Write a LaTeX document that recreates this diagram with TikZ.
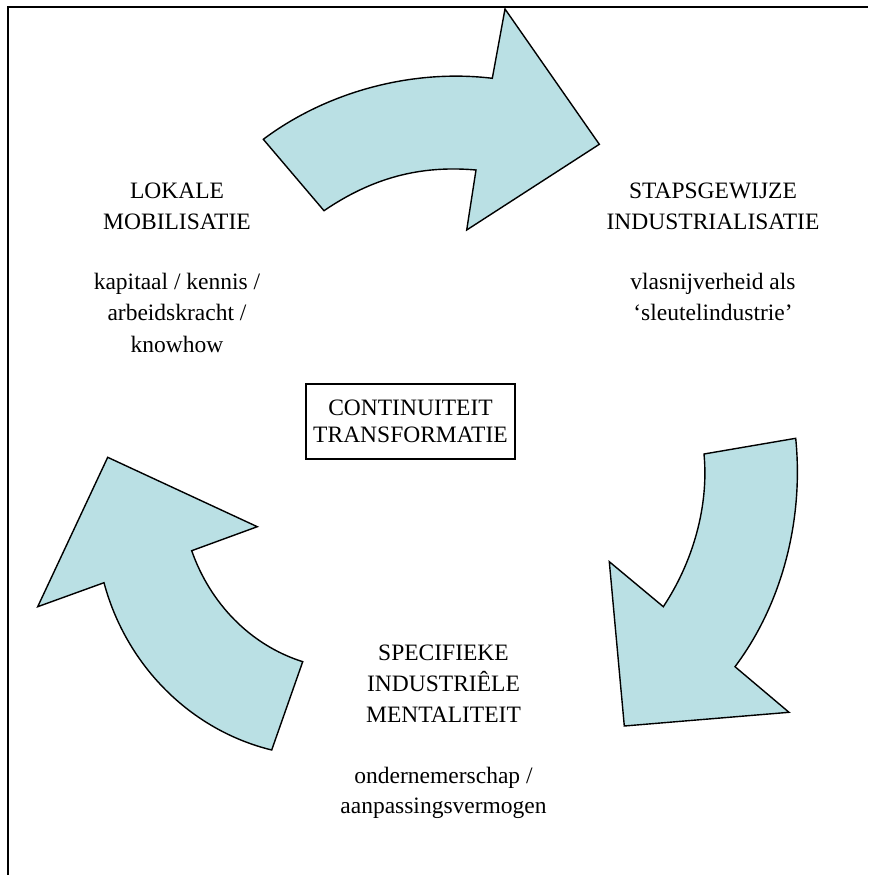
\documentclass[tikz,border=0pt]{standalone}
\usepackage{fontspec}
\setmainfont{Liberation Serif}
\definecolor{arrowfill}{RGB}{186,224,228}
\tikzset{
  cyclearrow/.style={fill=arrowfill, draw=black, line width=1.4pt, line join=miter},
  lbl/.style={anchor=base, inner sep=0pt, font=\fontsize{23.5}{31}\selectfont},
  centerbox/.style={draw=black, line width=1.5pt, minimum width=209pt, minimum height=75pt, inner sep=0pt}
}
\begin{document}
\begin{tikzpicture}[x=1pt,y=-1pt]
\useasboundingbox (0,0) rectangle (868,875);
% outer frame (only top and left edges inside the picture)
\draw[line width=2.2pt] (8,875) -- (8,7) -- (868,7);

% top arrow
\draw[cyclearrow] (263.3,139.3) -- (324,210.7)
  .. controls (372,178) and (420,165) .. (476,170)
  -- (466.7,230) -- (599.3,144.3) -- (505,9) -- (492.3,78.3)
  .. controls (412.9,68.7) and (327.3,91.3) .. (263.3,139.3)
  -- cycle;

% right arrow
\draw[cyclearrow] (795.7,438.3) -- (704,454)
  .. controls (709,507) and (692.5,562.7) .. (663.3,606.7)
  -- (609.3,561.7) -- (624.3,726) -- (789,712.3) -- (735,666.7)
  .. controls (783,602.7) and (803.7,518.3) .. (795.7,438.3)
  -- cycle;

% left arrow
\draw[cyclearrow] (107.7,457.3) -- (257.3,526.7) -- (191.7,550.7)
  .. controls (210,603) and (250,645) .. (302.7,661.7)
  -- (271.7,750)
  .. controls (190,730) and (126,665) .. (104,582.7)
  -- (37.7,606.7) -- cycle;

% centre box
\node[centerbox] (cont) at (410.5,421.5) {};
\node[lbl] (contA) at (410.5,415) {CONTINUITEIT};
\node[lbl] (contB) at (410.5,442) {TRANSFORMATIE};

% top-left block
\node[lbl] (lokA) at (177,198.5) {LOKALE};
\node[lbl] (lokB) at (177,229.5) {MOBILISATIE};
\node[lbl] (lokC) at (177,289) {kapitaal / kennis /};
\node[lbl] (lokD) at (177,320.5) {arbeidskracht /};
\node[lbl] (lokE) at (177,352) {knowhow};

% top-right block
\node[lbl] (stapA) at (713,198.5) {STAPSGEWIJZE};
\node[lbl] (stapB) at (713,229.5) {INDUSTRIALISATIE};
\node[lbl] (stapC) at (713,289) {vlasnijverheid als};
\node[lbl] (stapD) at (713,320.5) {`sleutelindustrie'};

% bottom block
\node[lbl] (specA) at (443.5,660) {SPECIFIEKE};
\node[lbl] (specB) at (443.5,691) {INDUSTRIÊLE};
\node[lbl] (specC) at (443.5,722) {MENTALITEIT};
\node[lbl] (specD) at (443.5,783) {ondernemerschap /};
\node[lbl] (specE) at (443.5,813.5) {aanpassingsvermogen};
\end{tikzpicture}
\end{document}
